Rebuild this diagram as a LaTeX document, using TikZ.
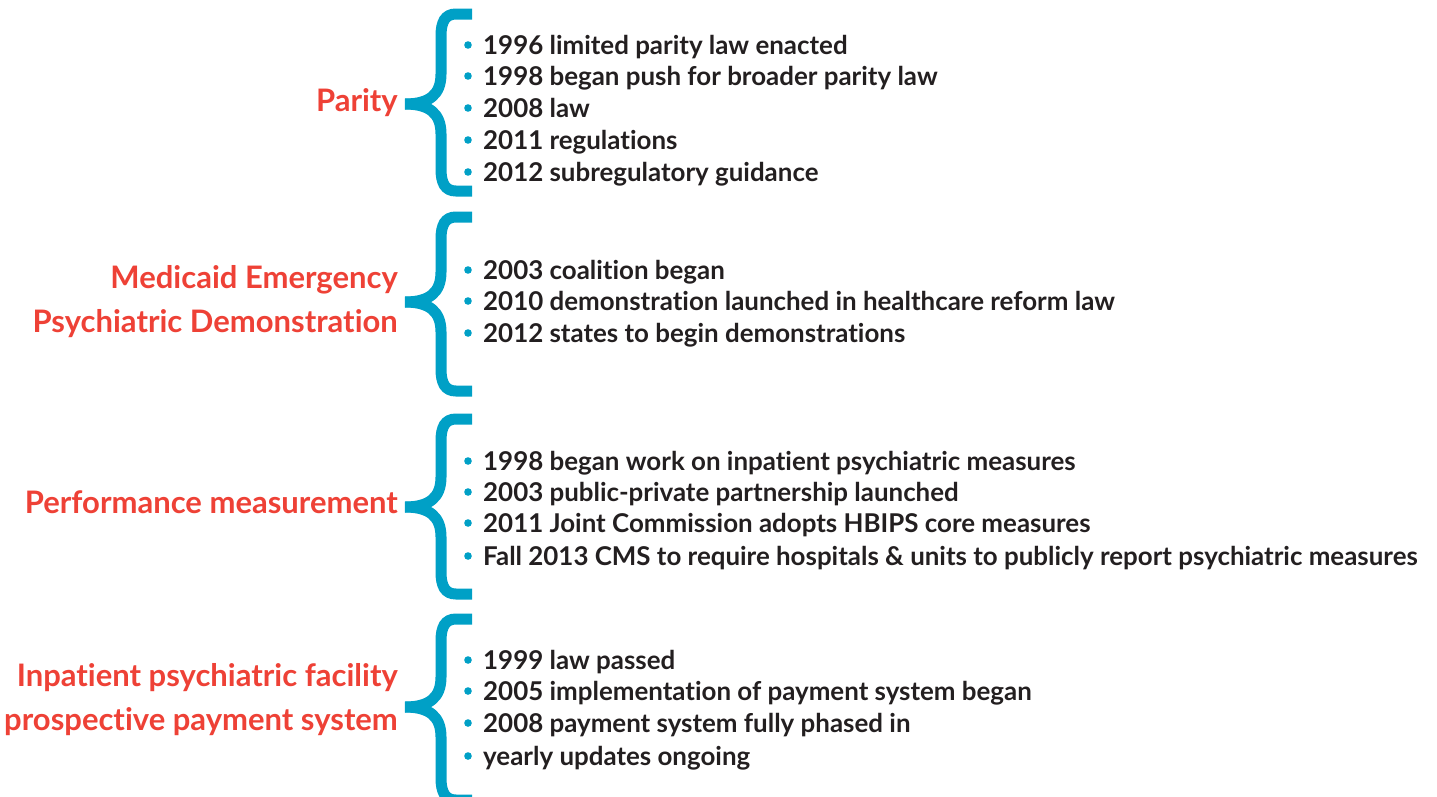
\documentclass[tikz,border=0pt]{standalone}
\usepackage{fontspec}
\setmainfont{Lato}[Ligatures=NoCommon]
\definecolor{teal}{HTML}{00A0C6}
\definecolor{redlab}{HTML}{EE4136}
\definecolor{txt}{HTML}{231F20}
\begin{document}
\begin{tikzpicture}[x=1pt,y=-1pt,
  item/.style={anchor=base west,inner sep=0pt,text=txt,font=\fontsize{25.9}{30}\selectfont\bfseries},
  lab/.style={anchor=east,inner sep=0pt,text=redlab,align=right,font=\fontsize{31}{44}\selectfont\bfseries},
  bracepath/.style={draw=teal,line width=11pt,line cap=butt},
  dot/.style={fill=teal}]
\useasboundingbox (0,0) rectangle (1437,796);
\foreach \T/\M/\B in {14/104/191, 217/302/391, 419/507/594, 619/707/800}{
  \draw[bracepath] (472,\T) -- (456,\T) .. controls (445,\T) and (441,\T+8) .. (441,\T+22) -- (441,\M-30) .. controls (441,\M-10) and (430,\M) .. (405,\M);
  \draw[bracepath] (405,\M) .. controls (430,\M) and (441,\M+10) .. (441,\M+30) -- (441,\B-22) .. controls (441,\B-8) and (445,\B) .. (456,\B) -- (472,\B);
}
% labels
\node[lab] (parity) at (398,103) {Parity};
\node[lab] (medicaid) at (398,302) {Medicaid Emergency\\Psychiatric Demonstration};
\node[lab] (perf) at (398,502) {Performance measurement};
\node[lab] (ipf) at (398,700) {Inpatient psychiatric facility\\prospective payment system};
% items
\foreach \y/\t [count=\i] in {
  45/1996 limited parity law enacted,
  76/1998 began push for broader parity law,
  108/2008 law,
  140/2011 regulations,
  172/2012 subregulatory guidance,
  270/2003 coalition began,
  301/2010 demonstration launched in healthcare reform law,
  333/2012 states to begin demonstrations,
  461/1998 began work on inpatient psychiatric measures,
  492/2003 public-private partnership launched,
  523/2011 Joint Commission adopts HBIPS core measures,
  556/Fall 2013 CMS to require hospitals \& units to publicly report psychiatric measures,
  660/1999 law passed,
  691/2005 implementation of payment system began,
  723/2008 payment system fully phased in,
  756/yearly updates ongoing}{
  \fill[dot] (468,\y) circle (3.8);
  \node[item] (item\i) at (483,\y+9) {\t};
}
\end{tikzpicture}
\end{document}
